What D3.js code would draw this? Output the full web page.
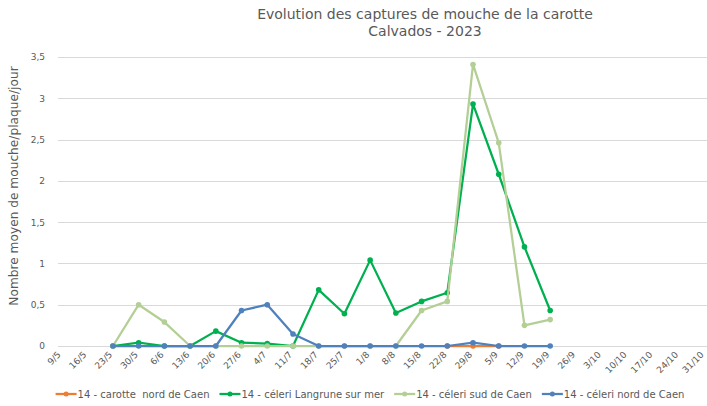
<!DOCTYPE html>
<html>
<head>
<meta charset="utf-8">
<script src="https://cdn.jsdelivr.net/npm/d3@7"></script>
<style>
  body { margin: 0; background: #fff; }
  svg { display: block; font-family: "DejaVu Sans", Verdana, sans-serif; }
</style>
</head>
<body>
<div id="chart"></div>
<script>
var width = 707, height = 406;

// dates on the x axis
var dates = ['9/5', '16/5', '23/5', '30/5', '6/6', '13/6', '20/6', '27/6', '4/7', '11/7',
  '18/7', '25/7', '1/8', '8/8', '15/8', '22/8', '29/8', '5/9', '12/9', '19/9',
  '26/9', '3/10', '10/10', '17/10', '24/10', '31/10'];

var yTicks = [0, 0.5, 1, 1.5, 2, 2.5, 3, 3.5];

// values per date (null = no capture record)
var carotteNord = [null, null, null, null, null, null, null, null, null, null,
  null, null, null, null, null, 0, 0, 0, null, null,
  null, null, null, null, null, null];
var celeriLangrune = [null, null, 0, 0.04, 0, 0, 0.18, 0.04, 0.03, 0,
  0.68, 0.39, 1.04, 0.4, 0.54, 0.645, 2.93, 2.08, 1.2, 0.43,
  null, null, null, null, null, null];
var celeriSud = [null, null, 0, 0.5, 0.29, 0, 0, 0, 0, 0,
  0, 0, 0, 0, 0.43, 0.54, 3.41, 2.46, 0.25, 0.32,
  null, null, null, null, null, null];
var celeriNord = [null, null, 0, 0, 0, 0, 0, 0.43, 0.5, 0.145,
  0, 0, 0, 0, 0, 0, 0.04, 0, 0, 0,
  null, null, null, null, null, null];

var seriesNames = ['14 - carotte  nord de Caen', '14 - céleri Langrune sur mer',
  '14 - céleri sud de Caen', '14 - céleri nord de Caen'];
var seriesValues = [carotteNord, celeriLangrune, celeriSud, celeriNord];
var colours = ['#ED7D31', '#00B050', '#B3CF95', '#4F81BD'];

var plot = { left: 58, right: 707, top: 57, bottom: 346 };

var x = d3.scalePoint()
  .domain(dates)
  .range([61.5, 704.5]);

var y = d3.scaleLinear()
  .domain([0, 3.5])
  .range([plot.bottom, plot.top]);

var svg = d3.select('#chart').append('svg')
  .attr('width', width)
  .attr('height', height);

// gridlines
svg.append('g')
  .selectAll('line')
  .data(yTicks)
  .enter()
  .append('line')
  .attr('x1', plot.left)
  .attr('x2', plot.right)
  .attr('y1', function (d) { return Math.round(y(d)) + 0.5; })
  .attr('y2', function (d) { return Math.round(y(d)) + 0.5; })
  .attr('stroke', '#d9d9d9')
  .attr('stroke-width', 1);

// y axis labels
var yAxis = svg.append('g')
  .attr('transform', 'translate(' + (plot.left - 10) + ',0)')
  .call(d3.axisLeft(y).tickValues(yTicks).tickSize(0)
    .tickFormat(function (d) { return String(d).replace('.', ','); }));
yAxis.select('.domain').remove();
yAxis.selectAll('text')
  .attr('fill', '#595959')
  .style('font-size', '9px')
  .style('font-family', '"DejaVu Sans", Verdana, sans-serif');

// x axis labels, rotated so their end sits just left of the tick
var xAxis = svg.append('g')
  .attr('transform', 'translate(0,' + plot.bottom + ')')
  .call(d3.axisBottom(x).tickSize(0));
xAxis.select('.domain').remove();
xAxis.selectAll('text')
  .attr('fill', '#595959')
  .style('font-size', '9px')
  .style('font-family', '"DejaVu Sans", Verdana, sans-serif')
  .attr('text-anchor', 'end')
  .attr('x', -7)
  .attr('y', 3)
  .attr('dy', '0.35em')
  .attr('transform', 'rotate(-45)');

// lines and markers
var line = d3.line()
  .defined(function (d) { return d.v !== null; })
  .x(function (d) { return x(d.date); })
  .y(function (d) { return y(d.v); });

seriesValues.forEach(function (vals, i) {
  var pts = vals.map(function (v, j) { return { date: dates[j], v: v }; });
  var g = svg.append('g');
  g.append('path')
    .datum(pts)
    .attr('d', line)
    .attr('fill', 'none')
    .attr('stroke', colours[i])
    .attr('stroke-width', 2.25)
    .attr('stroke-linejoin', 'round');
  g.selectAll('circle')
    .data(pts.filter(function (d) { return d.v !== null; }))
    .enter()
    .append('circle')
    .attr('cx', function (d) { return x(d.date); })
    .attr('cy', function (d) { return y(d.v); })
    .attr('r', 2.8)
    .attr('fill', colours[i]);
});

// titles
var title = svg.append('text')
  .attr('text-anchor', 'middle')
  .attr('fill', '#595959')
  .style('font-size', '14px');
title.append('tspan').attr('x', 425).attr('y', 19).text('Evolution des captures de mouche de la carotte');
title.append('tspan').attr('x', 425).attr('y', 36).text('Calvados - 2023');

svg.append('text')
  .attr('transform', 'translate(18,186) rotate(-90)')
  .attr('text-anchor', 'middle')
  .attr('fill', '#595959')
  .style('font-size', '12.2px')
  .text('Nombre moyen de mouche/plaque/jour');

// legend
var legend = svg.append('g');
var lx = 0;
seriesNames.forEach(function (name, i) {
  var item = legend.append('g').attr('transform', 'translate(' + lx + ',0)');
  item.append('line')
    .attr('x1', 0).attr('x2', 21)
    .attr('y1', 0).attr('y2', 0)
    .attr('stroke', colours[i])
    .attr('stroke-width', 2.25);
  item.append('circle')
    .attr('cx', 10.5).attr('cy', 0).attr('r', 2.5)
    .attr('fill', colours[i]);
  var t = item.append('text')
    .attr('x', 22)
    .attr('dy', '0.35em')
    .attr('fill', '#595959')
    .style('font-size', '10px')
    .style('white-space', 'pre')
    .attr('xml:space', 'preserve')
    .text(name);
  lx += 22 + t.node().getComputedTextLength() + 10;
});
lx -= 10;
legend.attr('transform', 'translate(' + (370 - lx / 2) + ',394)');
</script>
</body>
</html>
